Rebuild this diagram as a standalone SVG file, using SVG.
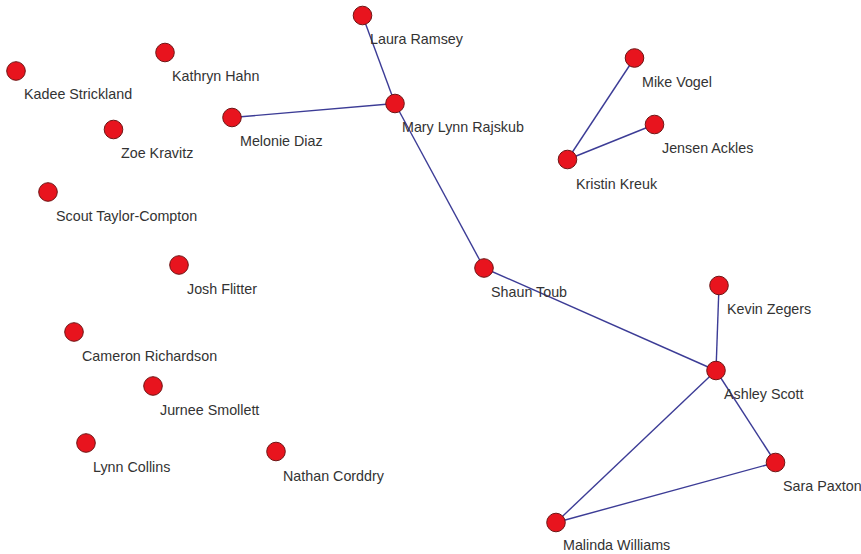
<svg xmlns="http://www.w3.org/2000/svg" width="861" height="554" viewBox="0 0 861 554">
<style>
.n{fill:#e8141e;stroke:#6e1414;stroke-width:1}
.e{stroke:#3c3c96;stroke-width:1.4;fill:none}
text{font-family:"Liberation Sans",Arial,sans-serif;font-size:14.3px;fill:#333}
</style>
<rect width="861" height="554" fill="#fff"/>
<g id="edges">
<line class="e" x1="362.5" y1="15.5" x2="395" y2="103.5"/>
<line class="e" x1="232" y1="117.5" x2="395" y2="103.5"/>
<line class="e" x1="395" y1="103.5" x2="484" y2="268"/>
<line class="e" x1="484" y1="268" x2="716" y2="370.5"/>
<line class="e" x1="719" y1="285.5" x2="716" y2="370.5"/>
<line class="e" x1="716" y1="370.5" x2="775.5" y2="462.5"/>
<line class="e" x1="716" y1="370.5" x2="556" y2="522.5"/>
<line class="e" x1="775.5" y1="462.5" x2="556" y2="522.5"/>
<line class="e" x1="634.5" y1="58" x2="567.5" y2="159.5"/>
<line class="e" x1="654.5" y1="124.5" x2="567.5" y2="159.5"/>
</g>
<g id="laura"><circle class="n" cx="362.5" cy="15.5" r="9.3"/><text x="370" y="43.5">Laura Ramsey</text></g>
<g id="marylynn"><circle class="n" cx="395" cy="103.5" r="9.3"/><text x="402" y="131.5">Mary Lynn Rajskub</text></g>
<g id="melonie"><circle class="n" cx="232" cy="117.5" r="9.3"/><text x="240" y="145.5">Melonie Diaz</text></g>
<g id="kathryn"><circle class="n" cx="165" cy="52.5" r="9.3"/><text x="172" y="80.5">Kathryn Hahn</text></g>
<g id="kadee"><circle class="n" cx="16" cy="71" r="9.3"/><text x="24" y="98.5">Kadee Strickland</text></g>
<g id="zoe"><circle class="n" cx="113.5" cy="129.5" r="9.3"/><text x="121" y="157.5">Zoe Kravitz</text></g>
<g id="scout"><circle class="n" cx="48" cy="192" r="9.3"/><text x="56" y="220.5">Scout Taylor-Compton</text></g>
<g id="josh"><circle class="n" cx="179" cy="265" r="9.3"/><text x="187" y="293.5">Josh Flitter</text></g>
<g id="cameron"><circle class="n" cx="74" cy="332" r="9.3"/><text x="82" y="360.5">Cameron Richardson</text></g>
<g id="jurnee"><circle class="n" cx="153" cy="386" r="9.3"/><text x="160" y="414.5">Jurnee Smollett</text></g>
<g id="lynn"><circle class="n" cx="86" cy="443" r="9.3"/><text x="93" y="471.5">Lynn Collins</text></g>
<g id="nathan"><circle class="n" cx="276" cy="451.5" r="9.3"/><text x="283" y="480.5">Nathan Corddry</text></g>
<g id="mike"><circle class="n" cx="634.5" cy="58" r="9.3"/><text x="642" y="86.5">Mike Vogel</text></g>
<g id="jensen"><circle class="n" cx="654.5" cy="124.5" r="9.3"/><text x="662" y="152.5">Jensen Ackles</text></g>
<g id="kristin"><circle class="n" cx="567.5" cy="159.5" r="9.3"/><text x="576" y="188.5">Kristin Kreuk</text></g>
<g id="shaun"><circle class="n" cx="484" cy="268" r="9.3"/><text x="491" y="296.5">Shaun Toub</text></g>
<g id="kevin"><circle class="n" cx="719" cy="285.5" r="9.3"/><text x="727" y="313.5">Kevin Zegers</text></g>
<g id="ashley"><circle class="n" cx="716" cy="370.5" r="9.3"/><text x="724" y="399">Ashley Scott</text></g>
<g id="sara"><circle class="n" cx="775.5" cy="462.5" r="9.3"/><text x="783" y="490.5">Sara Paxton</text></g>
<g id="malinda"><circle class="n" cx="556" cy="522.5" r="9.3"/><text x="563" y="550">Malinda Williams</text></g>
</svg>
